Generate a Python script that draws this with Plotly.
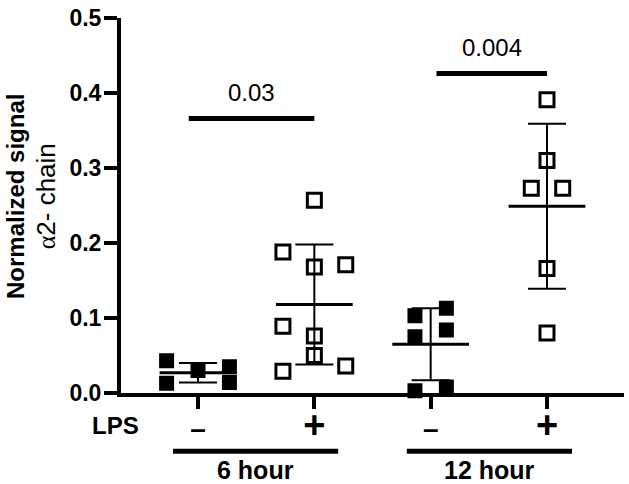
import plotly.graph_objects as go

# ---------------- data ----------------
groups = ["6 hour", "12 hour"]
lps_labels = ["-", "+", "-", "+"]

neg_6h = [0.043, 0.013, 0.030, 0.035, 0.014]
pos_6h = [0.257, 0.188, 0.168, 0.171, 0.089, 0.076, 0.050, 0.036, 0.029]
neg_12h = [0.103, 0.075, 0.113, 0.084, 0.003, 0.008]
pos_12h = [0.391, 0.310, 0.273, 0.273, 0.166, 0.080]

means = [0.027, 0.118, 0.065, 0.249]
sds = [0.013, 0.080, 0.048, 0.110]

p_values = ["0.03", "0.004"]
p_heights = [0.366, 0.426]

y_ticks = [0, 0.1, 0.2, 0.3, 0.4, 0.5]

# ---------------- layout constants ----------------
FONT = "Arial, Liberation Sans, sans-serif"
STEP = 0.135  # horizontal spread unit of the column scatter
jit_neg_6h = [-2, -2, 0, 2, 2]
jit_pos_6h = [0, -2, 0, 2, -2, 0, 0, 2, -2]
jit_neg_12h = [-1, -1, 1, 1, -1, 1]
jit_pos_12h = [0, 0, -1, 1, 0, 0]
MEAN_HALF = 0.33
sig_span = [(-0.08, 1.0), (2.05, 3.0)]
group_span = [(-0.215, 1.205), (1.795, 3.215)]

fig = go.Figure()

series = [
    (0, neg_6h, jit_neg_6h, True),
    (1, pos_6h, jit_pos_6h, False),
    (2, neg_12h, jit_neg_12h, True),
    (3, pos_12h, jit_pos_12h, False),
]
for idx, vals, jit, filled in series:
    xs = [idx + j * STEP for j in jit]
    if filled:
        marker = dict(symbol="square", size=15, color="black",
                      line=dict(width=0))
    else:
        marker = dict(symbol="square-open", size=14, color="black",
                      line=dict(width=3, color="black"))
    fig.add_trace(go.Scatter(x=xs, y=vals, mode="markers", marker=marker,
                             cliponaxis=False, showlegend=False,
                             hoverinfo="skip"))

# mean lines
mx, my = [], []
for i, m in enumerate(means):
    mx += [i - MEAN_HALF, i + MEAN_HALF, None]
    my += [m, m, None]
fig.add_trace(go.Scatter(x=mx, y=my, mode="lines",
                         line=dict(color="black", width=3),
                         showlegend=False, hoverinfo="skip"))

# SD error bars
fig.add_trace(go.Scatter(
    x=list(range(len(means))), y=means, mode="markers",
    marker=dict(size=1, color="rgba(0,0,0,0)"),
    error_y=dict(type="data", array=sds, visible=True, color="black",
                 thickness=2, width=19),
    cliponaxis=False, showlegend=False, hoverinfo="skip"))

shapes = []
annotations = []

# significance bars and p-values
for (x0, x1), h, p in zip(sig_span, p_heights, p_values):
    shapes.append(dict(type="line", xref="x", yref="y", x0=x0, x1=x1,
                       y0=h, y1=h, line=dict(color="black", width=5)))
    annotations.append(dict(x=(x0 + x1) / 2, y=h, xref="x", yref="y",
                            text=p, showarrow=False, yanchor="bottom",
                            yshift=11,
                            font=dict(family=FONT, size=24, color="black")))

# group brackets and labels
for (x0, x1), g in zip(group_span, groups):
    shapes.append(dict(type="line", xref="x", yref="paper", x0=x0, x1=x1,
                       y0=-0.155, y1=-0.155,
                       line=dict(color="black", width=5)))
    annotations.append(dict(x=(x0 + x1) / 2, y=-0.205, xref="x",
                            yref="paper", text="<b>%s</b>" % g,
                            showarrow=False, yanchor="middle",
                            font=dict(family=FONT, size=25, color="black")))

# LPS row label
annotations.append(dict(x=-0.01, y=-0.086, xref="paper", yref="paper",
                        text="<b>LPS</b>", showarrow=False,
                        xanchor="center", yanchor="middle",
                        font=dict(family=FONT, size=24, color="black")))

# y axis title
annotations.append(dict(
    x=-0.178, y=0.524, xref="paper", yref="paper", textangle=-90,
    text=("<b>Normalized signal</b><br>"
          "<span style=\"font-size:26px\"><span style=\"font-family:'Liberation Serif'\">α</span>2- chain</span>"),
    showarrow=False, xanchor="center", yanchor="middle",
    font=dict(family=FONT, size=24, color="black")))

tick_text = []
for s in lps_labels:
    if s == "+":
        tick_text.append('<b><span style="font-size:38px">+</span></b>')
    else:
        tick_text.append('<b><span style="font-size:28px">\u2013</span></b>')

fig.update_layout(
    width=629, height=484,
    margin=dict(l=121, r=5, t=13, b=91),
    plot_bgcolor="white", paper_bgcolor="white",
    font=dict(family=FONT, color="black"),
    shapes=shapes, annotations=annotations,
    xaxis=dict(range=[-0.662, 3.662], tickmode="array",
               tickvals=list(range(len(lps_labels))), ticktext=tick_text,
               showgrid=False, zeroline=False, showline=True,
               linecolor="black", linewidth=4, ticks="outside",
               ticklen=12, tickwidth=4, tickcolor="black",
               tickfont=dict(family=FONT, size=24, color="black")),
    yaxis=dict(range=[0, 0.5], tickmode="array",
               tickvals=y_ticks,
               ticktext=["<b>%.1f</b>" % v for v in y_ticks],
               showgrid=False, zeroline=False, showline=True,
               linecolor="black", linewidth=4, ticks="outside",
               ticklen=13, tickwidth=4, tickcolor="black",
               ticklabeloverflow="allow", ticklabelstandoff=-2,
               tickfont=dict(family=FONT, size=23, color="black")),
)

# remove the default 8px page margin so the figure fills the window
fig.write_html("out.html", config={"displayModeBar": False},
               post_script="document.body.style.margin='0';")
